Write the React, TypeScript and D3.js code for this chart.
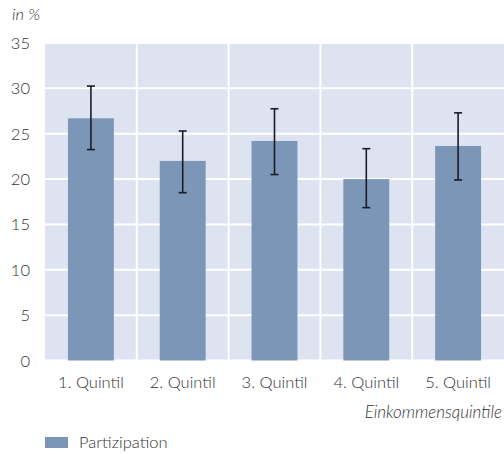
import React from "react";
import * as d3 from "d3";

const categories = ["1. Quintil", "2. Quintil", "3. Quintil", "4. Quintil", "5. Quintil"];
const values = [26.7, 22.0, 24.2, 20.0, 23.65];
const errLow = [23.25, 18.5, 20.5, 16.85, 19.9];
const errHigh = [30.25, 25.3, 27.75, 23.35, 27.3];
const yTicks = [0, 5, 10, 15, 20, 25, 30, 35];
const seriesName = "Partizipation";
const yUnit = "in %";
const xTitle = "Einkommensquintile";

const W = 504, H = 454;
const left = 45, right = 504, top = 43, bottom = 360.5;
const font = "Lato, 'Open Sans', sans-serif";
const textColor = "#333";

export default function App() {
  const x = d3.scaleBand<string>().domain(categories).range([left, right]).paddingInner(0).paddingOuter(0);
  const y = d3.scaleLinear().domain([0, 35]).range([bottom, top]);
  const bw = x.bandwidth() * 0.5;
  return (
    <svg width={W} height={H} style={{ position: "absolute", left: 0, top: 0 }}>
      <rect x={left} y={top} width={right - left} height={bottom - top} fill="#dde3f0" />
      {yTicks.map((t) => (
        <line key={t} x1={left} x2={right} y1={y(t)} y2={y(t)} stroke="#fff" strokeWidth={2} />
      ))}
      {categories.slice(1).map((c) => (
        <line key={c} x1={x(c)!} x2={x(c)!} y1={top} y2={bottom} stroke="#fff" strokeWidth={2} />
      ))}
      {categories.map((c, i) => {
        const cx = x(c)! + x.bandwidth() / 2;
        return (
          <g key={c}>
            <rect x={cx - bw / 2} y={y(values[i])} width={bw} height={y(0) - y(values[i])} fill="#7b96b6" />
            <line x1={cx} x2={cx} y1={y(errLow[i])} y2={y(errHigh[i])} stroke="#1c1c28" strokeWidth={1.6} />
            <line x1={cx - 4} x2={cx + 4} y1={y(errLow[i])} y2={y(errLow[i])} stroke="#1c1c28" strokeWidth={1.6} />
            <line x1={cx - 4} x2={cx + 4} y1={y(errHigh[i])} y2={y(errHigh[i])} stroke="#1c1c28" strokeWidth={1.6} />
            <text x={cx} y={388} textAnchor="middle" fontFamily={font} fontSize={16.5} fontWeight={300} fill={textColor}>{c}</text>
          </g>
        );
      })}
      {yTicks.map((t) => (
        <text key={t} x={30} y={y(t) + 6} textAnchor="end" fontFamily={font} fontSize={16.5} fontWeight={300} fill={textColor}>{t}</text>
      ))}
      <text x={12} y={20} fontFamily={font} fontSize={16.5} fontStyle="italic" fontWeight={300} fill={textColor}>{yUnit}</text>
      <text x={502} y={418} textAnchor="end" fontFamily={font} fontSize={17} fontStyle="italic" fontWeight={300} fill={textColor}>{xTitle}</text>
      <rect x={45} y={437} width={23} height={11} fill="#7b96b6" />
      <text x={79} y={448} fontFamily={font} fontSize={16.5} fontWeight={300} fill={textColor}>{seriesName}</text>
    </svg>
  );
}
